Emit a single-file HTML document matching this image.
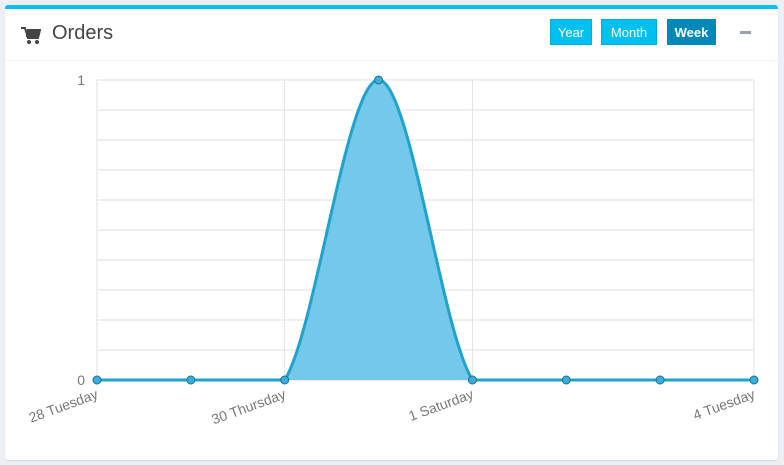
<!DOCTYPE html>
<html><head><meta charset="utf-8"><style>
body{margin:0;background:#ecf0f5;width:784px;height:465px;overflow:hidden;font-family:"Liberation Sans",sans-serif}
.box{position:absolute;left:5px;top:5px;width:773px;height:455px;background:#fff;border-top:4px solid #00c0ef;box-sizing:border-box;border-radius:3px;box-shadow:0 1px 1px rgba(0,0,0,.1)}
.hdr{position:absolute;left:0;top:0;right:0;height:51px;border-bottom:1px solid #f4f4f4}
.title{position:absolute;left:47px;top:13px;font-size:20px;color:#444}
.btn{position:absolute;top:10px;height:26px;line-height:26px;font-size:13px;color:#fff;text-align:center;background:#00c0ef;border:1px solid #00acd6;box-sizing:border-box}
</style></head><body>
<div class="box">
 <div class="hdr">
  <svg style="position:absolute;left:16px;top:18px" width="20" height="18"><path d="M0 1h4l3 10h10l2-8H6" fill="none" stroke="#444" stroke-width="2"/><rect x="5" y="3" width="13" height="7" fill="#444"/><circle cx="8" cy="15" r="2" fill="#444"/><circle cx="16" cy="15" r="2" fill="#444"/></svg>
  <div class="title">Orders</div>
  <div class="btn" style="left:545px;width:42px">Year</div>
  <div class="btn" style="left:596px;width:56px">Month</div>
  <div class="btn" style="left:662px;width:49px;background:#0089b8;border-color:#0089b8;font-weight:bold">Week</div>
  <div style="position:absolute;left:735px;top:22px;width:11px;height:3px;background:#97a0b3"></div>
 </div>
</div>
<svg id="c" style="position:absolute;left:0;top:0" width="784" height="465"></svg>
<script>
const categories=["28 Tuesday","29 Wednesday","30 Thursday","31 Friday","1 Saturday","2 Sunday","3 Monday","4 Tuesday"];
const values=[0,0,0,1,0,0,0,0];
const labelIdx=[0,2,4,7];
const yTicks=[0,1];
const X0=97,X1=754,Y0=380,Y1=80;
const sx=i=>X0+(X1-X0)*i/(categories.length-1);
const sy=v=>Y0-(Y0-Y1)*v;
const svg=document.getElementById('c'),NS='http://www.w3.org/2000/svg';
function el(t,a){const e=document.createElementNS(NS,t);for(const k in a)e.setAttribute(k,a[k]);svg.appendChild(e);return e;}
for(let k=0;k<=10;k++){const y=Y0-(Y0-Y1)*k/10;const g=el('line',{x1:X0,x2:X1,y1:y,y2:y,stroke:'#e2e2e2'});

}
yTicks.forEach(v=>{const t=el('text',{x:X0-12,y:sy(v)+5,'text-anchor':'end','font-size':14,fill:'#777'});t.textContent=v;

});
labelIdx.forEach(i=>{const x=sx(i);const l=el('line',{x1:x,x2:x,y1:Y1,y2:Y0,stroke:'#e2e2e2'});


const t=el('text',{x:x+2,y:Y0+18,'text-anchor':'end','font-size':14,fill:'#777',transform:`rotate(-20 ${x+2} ${Y0+18})`});t.textContent=categories[i];

});
const pts=values.map((v,i)=>[sx(i),sy(v)]);
const slope=i=>{const a=pts[Math.max(0,i-1)],b=pts[Math.min(pts.length-1,i+1)];return (b[1]-a[1])/(b[0]-a[0]);};
let d=`M${pts[0][0]},${pts[0][1]}`;
for(let i=0;i<pts.length-1;i++){const p=pts[i],q=pts[i+1];
 if(values[i]===values[i+1]){d+=`L${q[0]},${q[1]}`;continue;}
 const dx=(q[0]-p[0])/3;const m0=values[i]===0?slope(i):0,m1=values[i+1]===0?slope(i+1):0;
 d+=`C${p[0]+dx},${p[1]+m0*dx} ${q[0]-dx},${q[1]-m1*dx} ${q[0]},${q[1]}`;}
const area=el('path',{d:d+`L${X1},${Y0}L${X0},${Y0}Z`,fill:'#74c8ea'});


const line=el('path',{d:d,fill:'none',stroke:'#1ea3cc','stroke-width':3});


pts.forEach(p=>{const c=el('circle',{cx:p[0],cy:p[1],r:4,fill:'#3aaed8',stroke:'#1a6f93','stroke-width':1});

});
</script>
</body></html>
